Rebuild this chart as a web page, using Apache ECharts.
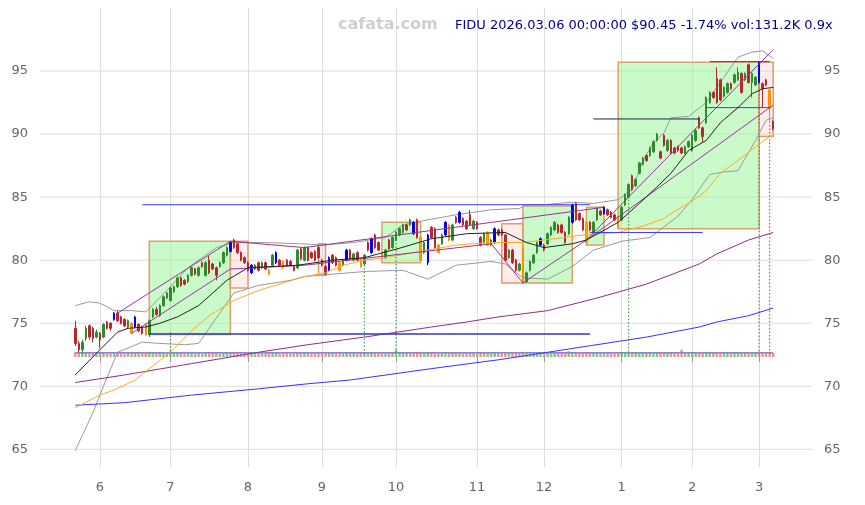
<!DOCTYPE html>
<html><head><meta charset="utf-8">
<script src="https://cdn.jsdelivr.net/npm/echarts@6/dist/echarts.min.js"></script>
<style>html,body{margin:0;padding:0;background:#fff}#c{width:865px;height:505px}</style>
</head><body><div id="c"></div>
<script>
// ---------- DATA ----------
const HOLIDAYS = ['2025-05-26','2025-06-19','2025-07-04','2025-09-01','2025-11-27','2025-12-25','2026-01-01','2026-01-19','2026-02-16'];
function tradingDays(s, e) {
  const out = []; let d = new Date(s + 'T00:00:00Z'); const end = new Date(e + 'T00:00:00Z');
  while (d <= end) { const w = d.getUTCDay(); const iso = d.toISOString().slice(0, 10);
    if (w !== 0 && w !== 6 && !HOLIDAYS.includes(iso)) out.push(iso);
    d = new Date(d.getTime() + 86400000); }
  return out;
}
const dates = tradingDays('2025-05-21', '2026-03-06');

// [open, close, low, high]
const candles = [
[74.6,73.4,73.2,75.2],[73.4,72.9,72.7,73.6],[72.9,73.5,72.6,73.7],[73.8,74.6,73.6,74.8],[74.8,73.9,73.7,74.9],
[74.6,73.8,73.5,74.7],[73.9,74.3,73.8,74.5],[74.2,73.7,73.0,74.3],[73.9,74.9,73.8,75.0],[75.1,74.6,74.5,75.2],
[75.0,74.6,74.4,75.1],[75.3,75.8,75.2,75.9],[75.8,75.2,75.1,76.0],[75.5,75.0,74.9,75.6],[75.3,74.8,74.7,75.4],
[74.7,75.2,74.6,75.3],[75.0,74.2,74.1,75.1],[74.7,75.5,74.6,75.6],[74.9,74.4,74.3,75.0],[74.7,74.2,74.1,74.8],
[74.9,74.1,74.0,75.0],[74.1,75.2,73.9,75.3],[75.5,76.1,75.4,76.2],[76.1,75.7,75.6,76.3],[75.6,76.4,75.5,76.5],
[76.4,77.1,76.3,77.2],[77.0,77.4,76.9,77.5],[76.8,77.8,76.7,77.9],[77.5,77.9,77.4,78.0],[77.9,78.6,77.8,78.7],
[78.6,78.0,77.9,78.7],[78.4,78.1,78.0,78.5],[78.3,78.8,78.2,78.9],[78.8,79.4,78.7,79.5],[79.3,78.9,78.8,79.4],
[78.8,79.4,78.7,79.5],[79.8,79.5,79.4,79.9],[78.8,79.8,78.7,79.9],[80.0,79.0,78.9,80.4],[79.7,79.3,79.2,79.8],
[79.4,78.8,78.4,79.5],[79.5,79.8,79.4,79.9],[79.8,80.6,79.7,80.7],[80.4,81.0,80.3,81.1],[80.7,81.4,80.6,81.5],
[81.6,81.0,80.9,81.7],[81.3,80.6,80.5,81.4],[80.6,80.0,79.9,80.7],[80.2,79.8,79.7,80.3],[79.8,79.2,79.1,79.9],
[79.0,79.6,78.9,79.7],[79.3,79.6,79.2,79.7],[79.8,79.2,79.1,79.9],[79.4,79.8,79.3,79.9],[79.8,79.3,79.2,79.9],
[79.2,78.9,78.8,79.3],[79.6,80.4,79.5,80.5],[79.8,80.6,79.7,80.7],[80.0,79.6,79.5,80.1],[79.9,79.4,79.3,80.0],
[80.0,79.6,79.5,80.1],[79.9,79.6,79.5,80.0],[79.5,79.2,79.1,79.6],[79.4,80.8,79.3,80.9],[80.9,80.1,80.0,81.0],
[80.0,81.0,79.9,81.1],[81.0,80.0,79.9,81.1],[80.6,80.2,80.1,80.7],[80.7,80.0,79.9,80.8],[81.0,80.2,80.1,81.1],
[80.0,79.6,79.5,80.1],[79.5,78.9,78.8,79.6],[79.2,80.2,79.1,80.3],[80.4,79.8,79.7,80.5],[80.2,79.6,79.5,80.3],
[79.8,79.2,79.1,79.9],[79.6,80.0,79.5,80.1],[80.0,80.8,79.9,80.9],[80.8,80.1,80.0,80.9],[80.0,80.5,79.9,80.6],
[80.6,80.0,79.9,80.7],[80.0,79.5,79.4,80.1],[79.7,80.4,79.6,80.5],[81.4,80.8,80.7,81.5],[80.6,81.7,80.5,81.8],
[82.0,81.0,80.9,82.1],[81.4,80.8,80.7,81.5],[80.6,80.2,80.1,80.7],[80.2,80.8,80.1,80.9],[81.6,80.9,80.8,81.7],
[81.0,81.8,80.9,81.9],[81.6,82.2,81.5,82.3],[82.0,82.5,81.9,82.6],[82.2,82.8,82.1,82.9],[82.8,82.4,82.3,82.9],
[82.8,83.2,82.7,83.3],[83.0,82.1,82.0,83.1],[83.2,81.8,81.7,83.3],[81.8,80.0,79.9,81.9],[80.6,81.4,80.5,81.5],
[79.8,82.0,79.6,82.1],[82.6,81.8,81.7,82.7],[82.5,81.0,80.9,82.6],[81.2,80.6,80.5,81.3],[81.3,82.0,81.2,82.1],
[82.0,83.0,81.9,83.1],[82.8,81.6,81.5,82.9],[81.6,82.8,81.5,82.9],[83.4,83.0,82.9,83.5],[83.0,83.8,82.9,83.9],
[83.3,82.8,82.7,83.4],[83.1,82.5,82.4,83.2],[83.6,82.8,82.7,84.0],[82.5,83.1,82.4,83.2],[83.0,82.5,82.4,83.1],
[81.8,81.2,81.1,81.9],[81.4,82.1,81.3,82.2],[82.2,81.2,81.1,82.3],[81.2,81.6,81.1,81.7],[81.4,82.5,81.3,82.6],
[82.4,82.0,81.9,82.5],[82.4,82.0,81.9,82.5],[82.0,80.0,79.9,82.1],[80.2,80.8,80.1,80.9],[80.8,79.8,79.7,80.9],
[80.0,79.2,79.1,80.1],[79.2,79.7,79.1,79.8],[81.0,78.2,78.1,81.1],[78.3,79.0,78.2,79.1],[79.2,79.9,79.1,80.0],
[79.8,80.4,79.7,80.5],[80.6,81.4,80.5,81.5],[81.2,81.7,81.1,81.8],[81.2,80.8,80.7,81.3],[81.3,82.1,81.2,82.2],
[82.0,82.6,81.9,82.7],[82.4,83.0,82.3,83.1],[82.8,82.2,82.1,82.9],[82.8,82.2,82.1,82.9],[82.2,81.4,81.3,82.3],
[82.1,83.4,82.0,83.5],[83.0,84.4,82.9,84.5],[84.5,83.2,83.1,84.6],[83.7,83.2,83.1,83.8],[83.3,82.4,82.3,83.4],
[83.0,81.4,81.3,83.1],[83.0,82.4,82.3,83.1],[82.2,83.0,82.1,83.1],[83.2,84.1,83.1,84.2],[83.9,83.6,83.5,84.0],
[83.7,84.2,83.6,84.3],[84.0,83.6,83.5,84.1],[83.8,83.4,83.3,83.9],[83.6,83.2,83.1,83.7],[83.4,82.6,82.5,83.5],
[83.2,84.2,83.1,84.3],[84.4,85.2,84.3,85.3],[85.0,86.0,84.9,86.1],[86.7,85.6,85.5,86.8],[85.9,86.4,85.8,86.5],
[86.9,87.7,86.8,87.8],[87.6,88.1,87.5,88.2],[88.3,87.9,87.8,88.4],[88.3,88.9,88.2,89.0],[88.6,89.4,88.5,89.5],
[89.5,90.0,89.4,90.1],[88.6,88.1,88.0,88.7],[89.9,89.1,89.0,90.0],[88.7,89.5,88.6,89.6],[89.5,88.5,88.4,89.6],
[88.9,88.5,88.4,89.0],[89.0,88.7,88.6,89.1],[88.9,88.5,88.4,89.0],[88.5,89.0,88.4,89.1],[89.0,89.4,88.9,89.5],
[88.7,89.9,88.6,90.0],[89.5,90.3,89.4,90.4],[91.3,90.5,90.4,91.4],[90.5,89.8,89.3,90.6],[90.9,92.9,90.8,93.0],
[92.5,93.3,92.4,93.4],[93.3,92.9,92.8,93.4],[94.4,92.5,92.4,95.3],[94.3,92.7,92.6,94.4],[93.0,93.7,92.9,93.8],
[93.3,94.0,93.2,94.1],[94.0,93.6,93.5,94.1],[94.1,94.7,94.0,94.8],[94.3,94.9,94.2,95.3],[94.8,93.3,93.2,94.9],
[94.3,94.8,94.2,94.9],[95.5,94.1,94.0,95.6],[94.1,94.8,92.9,94.9],[93.9,94.5,93.8,94.6],[95.7,94.1,94.0,95.8],
[94.0,93.6,92.1,94.1],[94.3,93.9,93.8,94.4],[93.5,92.05,91.0,93.6],[91.0,90.45,90.3,91.1]
];
const blueCandles = [11,17,44,50,57,72,77,84,96,100,105,109,119,132,141,150,194];
const orangeCandles = [16,20,55,59,75,81,87,98,103,106,117,127,145,154,197];

// volume in thousands
const volumes = [
150,132,128,141,137,125,119,133,146,121,118,142,139,127,122,131,155,148,129,136,
160,172,145,130,138,141,126,185,134,129,140,122,131,137,128,126,119,143,150,127,
133,124,139,141,147,152,138,129,135,144,131,122,128,120,126,139,142,148,121,137,
125,118,124,146,150,139,141,127,132,129,136,142,151,133,128,140,124,149,137,126,
131,138,162,135,147,144,132,139,127,130,141,235,138,129,133,125,152,149,166,137,
158,143,139,147,131,150,146,140,128,144,135,129,142,133,127,148,131,140,123,146,
132,129,155,138,147,141,130,170,149,137,143,135,128,126,138,145,131,127,130,142,
190,156,143,138,135,161,140,132,146,128,141,130,126,124,153,148,157,166,150,139,
152,141,136,147,143,158,150,145,139,148,137,142,240,133,138,140,146,151,139,168,
147,142,165,160,144,139,133,148,145,157,138,152,141,137,176,150,143,162,131
];
const volMA = [[0,135],[198,135]];

// moving averages [tradingDayIndex, value]
const ma20 = [[0,70.9],[7,72.9],[12,74.3],[15,74.6],[20,74.7],[24,75.0],[29,75.5],[35,76.4],[43,78.4],[49,79.4],[63,79.6],[73,80.0],[82,80.2],[92,80.95],[101,81.7],[111,82.1],[122,82.2],[128,81.4],[133,81.0],[141,81.3],[145,81.6],[154,83.0],[160,84.5],[165,85.8],[169,86.9],[174,88.7],[179,89.5],[183,90.9],[188,92.1],[192,93.2],[195,93.6],[198,93.7]];
const ma50 = [[0,68.3],[7,69.3],[11,69.7],[17,70.5],[21,71.4],[27,72.7],[33,74.4],[38,75.6],[45,76.8],[52,77.6],[65,78.7],[71,79.0],[76,79.6],[82,80.0],[88,80.2],[96,80.6],[108,81.2],[118,81.4],[127,81.4],[133,81.6],[144,82.0],[154,82.2],[161,82.7],[167,83.3],[169,83.7],[174,84.5],[179,85.5],[183,86.9],[188,87.9],[193,89.0],[197,89.8],[198,90.0]];
const ma100 = [[0,70.3],[14,70.9],[33,71.8],[52,72.7],[66,73.3],[82,73.9],[101,74.7],[111,75.1],[120,75.5],[134,76.0],[148,77.0],[162,78.1],[177,79.7],[182,80.5],[191,81.6],[198,82.2]];
const ma200 = [[0,68.5],[14,68.7],[33,69.3],[52,69.8],[66,70.2],[78,70.5],[101,71.4],[120,72.1],[134,72.7],[148,73.3],[162,73.9],[177,74.7],[182,75.1],[191,75.6],[198,76.2]];
const bbUpper = [[0,76.4],[4,76.7],[7,76.6],[11,76.0],[16,76.0],[20,75.9],[26,77.6],[32,79.4],[40,81.0],[45,81.4],[54,81.4],[64,81.3],[70,81.2],[79,81.4],[88,81.8],[93,82.8],[100,83.2],[108,83.6],[118,84.0],[126,84.1],[128,84.4],[133,84.4],[141,84.6],[147,84.5],[154,84.8],[158,85.6],[161,87.9],[164,89.3],[167,90.1],[169,91.3],[174,91.4],[179,92.5],[184,94.5],[188,96.1],[192,96.5],[195,96.6],[198,96.0]];
const bbLower = [[0,64.9],[5,67.9],[8,70.0],[12,72.7],[19,73.5],[24,73.4],[31,73.3],[35,73.4],[41,75.8],[45,77.4],[52,78.0],[61,78.4],[65,78.7],[82,79.1],[93,79.2],[100,78.5],[108,79.6],[118,79.9],[122,79.7],[127,78.6],[134,78.5],[141,79.5],[147,80.8],[155,81.5],[163,81.8],[171,83.5],[175,84.8],[180,86.8],[184,87.0],[188,87.1],[193,89.5],[196,91.1],[198,91.3]];

// trend channel lines
const trendUpper = [[12,75.8],[44,81.5],[65,81.0],[150,84.2]];
const trendLower = [[16,74.2],[44,79.3],[65,79.6],[118,81.3],[127,78.2],[145,81.6]];
const trendSteepUpper = [[145,81.6],[198,96.7]];
const trendSteepLower = [[145,81.6],[198,92.3]];

// boxes [fromIndex, toIndex, top, bottom]
const greenBoxes = [[20.5,44,81.5,74.1],[87,98,83.0,79.8],[126.6,140.7,84.3,78.2],[144.8,149.9,84.2,81.2],[153.8,193.5,95.7,82.5]];
const pinkBoxes = [[44,49,81.5,77.8],[68.5,71,81.3,78.8],[120.7,126.6,82.9,78.2],[193.5,197.6,95.7,89.8]];

// horizontal levels [fromIndex, toIndex, price]
const blueLevels = [[19,145.6,84.4],[146.4,177.6,82.2],[179.2,196.5,92.1],[179.5,196.5,95.75]];
const navyLevels = [[20.5,145.6,74.15]];
const blackLevels = [[146.7,176.7,91.2]];
// signal markers [index, topPrice, bottomPrice]
const buySignals = [[27,74.3,72.5],[82,79.9,72.5],[91,82.2,72.5],[157,84.8,72.5],[194,94.0,72.5]];
const sellSignals = [[197,91.0,72.5]];

const priceTicks = [65,70,75,80,85,90,95];
const titleText = 'FIDU 2026.03.06 00:00:00 $90.45 -1.74% vol:131.2K 0.9x';
const watermark = 'cafata.com';

// ---------- BUILD ----------
const PAD_L = 10, PAD_R = 11;
const cats = [];
for (let i = 0; i < PAD_L; i++) cats.push('pl' + i);
dates.forEach(d => cats.push(d));
for (let i = 0; i < PAD_R; i++) cats.push('pr' + i);
const monthStart = new Set();
for (let i = 1; i < dates.length; i++) if (dates[i].slice(5,7) !== dates[i-1].slice(5,7)) monthStart.add(i + PAD_L);
const showFn = (i) => monthStart.has(i);

const pad = (arr) => [...Array(PAD_L).fill('-'), ...arr, ...Array(PAD_R).fill('-')];
const xy = (pts) => pts.map(([i, v]) => [i + PAD_L, v]);

const UP = '#2e8b2e', DOWN = '#b82828';
const candleData = candles.map((c, i) => {
  if (blueCandles.includes(i)) return {value: c, itemStyle: {color:'#0000ff', color0:'#0000ff', borderColor:'#0000ff', borderColor0:'#0000ff'}};
  if (orangeCandles.includes(i)) return {value: c, itemStyle: {color:'#ffa500', color0:'#ffa500', borderColor:'#ff8c00', borderColor0:'#ff8c00'}};
  return c;
});
const volData = volumes.map((v, i) => ({value: v, itemStyle: {color: candles[i][1] >= candles[i][0] ? 'rgba(90,170,90,0.7)' : 'rgba(215,110,110,0.7)'}}));

function lineSeries(name, pts, color, width, z, yIdx) {
  return {name, type:'line', data: xy(pts), yAxisIndex: yIdx || 0, symbol:'none', silent:true, z: z || 4,
    lineStyle:{color, width: width || 1}, animation:false};
}
function boxSeries(data, fill) {
  return {type:'custom', silent:true, z:1, animation:false, encode:{x:[0,1], y:[2,3]},
    data: data.map(b => [b[0] + PAD_L, b[1] + PAD_L, b[2], b[3]]),
    renderItem: (p, api) => {
      const a = api.coord([api.value(0), api.value(2)]);
      const b = api.coord([api.value(1), api.value(3)]);
      return {type:'rect', shape:{x:a[0], y:a[1], width:b[0]-a[0], height:b[1]-a[1]},
        style:{fill, stroke:'#dca06a', lineWidth:1.5}};
    }};
}
function levelSeries(data, color, width) {
  return {type:'custom', silent:true, z:5, animation:false, encode:{x:[0,1], y:2},
    data: data.map(l => [l[0] + PAD_L, l[1] + PAD_L, l[2]]),
    renderItem: (p, api) => {
      const a = api.coord([api.value(0), api.value(2)]);
      const b = api.coord([api.value(1), api.value(2)]);
      return {type:'line', shape:{x1:a[0], y1:a[1], x2:b[0], y2:b[1]}, style:{stroke:color, lineWidth:width || 1}};
    }};
}
function signalSeries(data, color) {
  return {type:'custom', silent:true, z:2, animation:false, encode:{x:0, y:[1,2]},
    data: data.map(s => [s[0] + PAD_L, s[1], s[2]]),
    renderItem: (p, api) => {
      const a = api.coord([api.value(0), api.value(1)]);
      const b = api.coord([api.value(0), api.value(2)]);
      return {type:'line', shape:{x1:a[0], y1:a[1], x2:b[0], y2:b[1]}, style:{stroke:color, lineWidth:1, lineDash:[1.5,2]}};
    }};
}
const gridLineSeries = {type:'custom', silent:true, z:0, animation:false, encode:{y:0},
  data: priceTicks.map(v => [v]),
  renderItem: (p, api) => {
    const cs = p.coordSys; const y = api.coord([PAD_L, api.value(0)])[1];
    return {type:'line', shape:{x1:cs.x, y1:y, x2:cs.x + cs.width, y2:y}, style:{stroke:'#dedede', lineWidth:1}};
  }};

const chart = echarts.init(document.getElementById('c'), null, {renderer:'canvas'});
const FONT = 'DejaVu Sans';
chart.setOption({
  animation:false,
  textStyle:{fontFamily: FONT},
  grid:{left:40, right:53, top:8, bottom:38, containLabel:false},
  xAxis:{type:'category', data: cats, boundaryGap:false, offset:5,
    axisLine:{show:false},
    axisTick:{show:true, interval: showFn, length:5, lineStyle:{color:'#999'}},
    axisLabel:{interval: showFn, color:'#666', fontSize:13, margin:9, fontFamily: FONT,
      formatter: v => v.length === 10 ? String(parseInt(v.slice(5,7), 10)) : ''},
    splitLine:{show:true, interval: showFn, lineStyle:{color:'#dedede', width:1}}},
  yAxis:[
    {type:'value', min:63.6, max:100, position:'left', splitLine:{show:false}, axisLine:{show:false}, axisTick:{show:false},
      axisLabel:{customValues: priceTicks, color:'#666', fontSize:13, margin:12, fontFamily: FONT}},
    {type:'value', min:63.6, max:100, position:'right', splitLine:{show:false}, axisLine:{show:false}, axisTick:{show:false},
      axisLabel:{customValues: priceTicks, color:'#666', fontSize:13, margin:12, fontFamily: FONT}},
    {type:'value', min:-3570, max:11330, show:false}
  ],
  graphic:[
    {type:'text', left:338, top:17, z:100, style:{text: watermark, fill:'#cfcfcf', font:'bold 16px "DejaVu Sans"'}},
    {type:'text', left:455, top:19, z:100, style:{text: titleText, fill:'#00008b', font:'13px "DejaVu Sans"'}}
  ],
  series:[
    gridLineSeries,
    boxSeries(greenBoxes, 'rgba(150,245,150,0.5)'),
    boxSeries(pinkBoxes, 'rgba(255,200,200,0.35)'),
    signalSeries(buySignals, '#2e8b2e'),
    signalSeries(sellSignals, '#d03030'),
    lineSeries('volMA', volMA, '#4444cc', 1, 2, 2),
    {type:'bar', yAxisIndex:2, data: pad(volData), barWidth:2.5, silent:true, z:3, animation:false},
    lineSeries('bbU', bbUpper, '#999999', 1, 3),
    lineSeries('bbL', bbLower, '#999999', 1, 3),
    lineSeries('ma200', ma200, '#3333ff', 1, 4),
    lineSeries('ma100', ma100, '#8e2b8e', 1, 4),
    lineSeries('ma50', ma50, '#ffaa22', 1, 4),
    lineSeries('tU', trendUpper, '#993399', 1, 4),
    lineSeries('tL', trendLower, '#993399', 1, 4),
    lineSeries('tSU', trendSteepUpper, '#993399', 1, 4),
    lineSeries('tSL', trendSteepLower, '#993399', 1, 4),
    {type:'candlestick', data: pad(candleData), barWidth:2, silent:true, z:3, animation:false,
      itemStyle:{color: UP, color0: DOWN, borderColor: UP, borderColor0: DOWN, borderWidth:1}},
    lineSeries('ma20', ma20, '#222222', 1, 5),
    levelSeries(blueLevels, '#3a3aff', 1),
    levelSeries(navyLevels, '#3333bb', 1.5),
    levelSeries(blackLevels, '#222244', 1)
  ]
});
</script></body></html>
